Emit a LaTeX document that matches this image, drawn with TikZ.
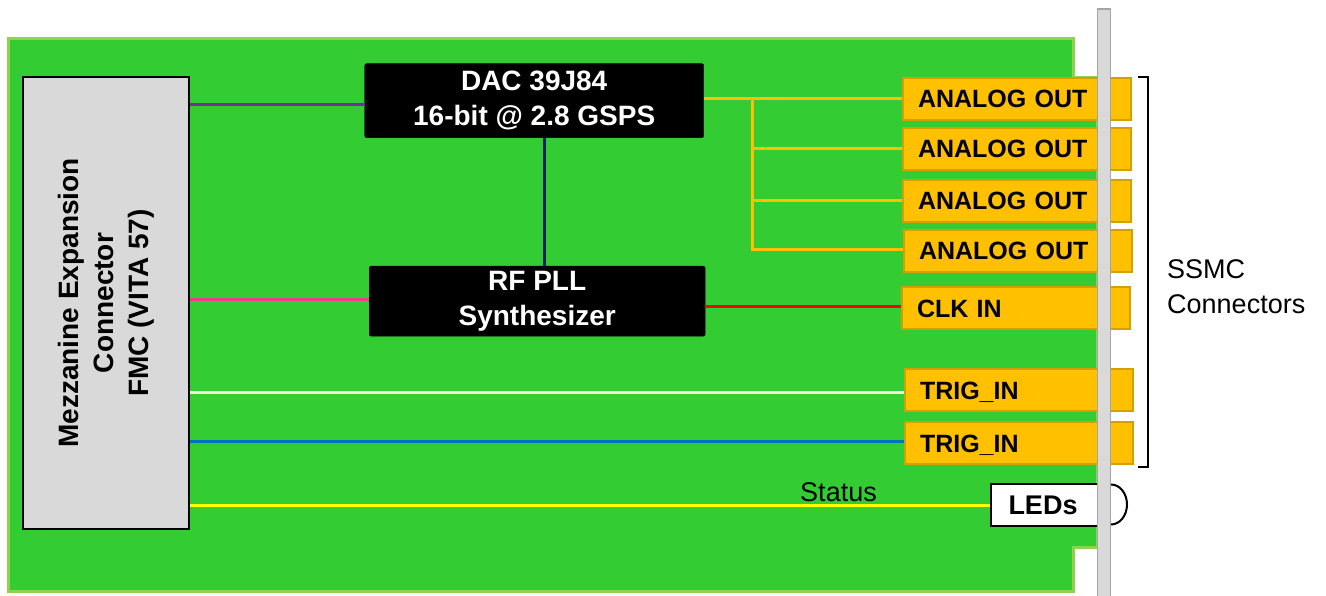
\documentclass[tikz,border=0pt]{standalone}
\usepackage{fontspec}
\setmainfont{Liberation Sans}
\definecolor{boardgreen}{HTML}{33CC33}
\definecolor{boardedge}{HTML}{92D050}
\definecolor{panelgray}{HTML}{D9D9D9}
\definecolor{paneledge}{HTML}{A6A6A6}
\definecolor{connorange}{HTML}{FFC000}
\definecolor{connedge}{HTML}{D4A000}
\definecolor{wpurple}{HTML}{7030A0}
\definecolor{wpink}{HTML}{F0388C}
\definecolor{wnavy}{HTML}{002060}
\definecolor{wred}{HTML}{FF0000}
\definecolor{wwhite}{HTML}{F2F2D0}
\definecolor{wblue}{HTML}{0070C0}
\definecolor{wyellow}{HTML}{FFFF00}
\tikzset{
  chip/.style={fill=black, draw=black, rounded corners=2pt, text=white,
    font=\bfseries\fontsize{28}{35}\selectfont, align=center, inner sep=0pt},
  conn/.style={fill=connorange, draw=connedge, line width=2pt, anchor=north west,
    minimum height=42pt, text width=198pt, inner xsep=15pt, inner ysep=0pt, align=left,
    text height=18pt, text depth=0pt, font=\bfseries\fontsize{25}{30}\selectfont},
  wire/.style={line width=3pt},
}
\begin{document}
\begin{tikzpicture}[x=1pt,y=-1pt]
\useasboundingbox (0,0) rectangle (1326,596);
% board
\draw[fill=boardgreen, draw=boardedge, line width=3pt]
  (8.5,39) -- (1073,39) -- (1073,78) -- (1097,78) -- (1097,547) -- (1073,547) -- (1073,591) -- (8.5,591) -- cycle;
% mezzanine connector
\node (mezz) [fill=panelgray, draw=black, line width=2pt, minimum width=166pt, minimum height=452pt,
  inner sep=0pt, anchor=north west] at (22,76) {};
\node (mezztext) [rotate=90, align=center, font=\bfseries\fontsize{28}{35}\selectfont]
  at (mezz.center) {Mezzanine Expansion\\Connector\\FMC (VITA 57)};
% chips
\node (dac) [chip, minimum width=339pt, minimum height=74pt, anchor=north west] at (364.5,63.5)
  {DAC 39J84\\16-bit @ 2.8 GSPS};
\node (pll) [chip, minimum width=336pt, minimum height=70pt, anchor=north west] at (369,266)
  {RF PLL\\Synthesizer};
% SSMC connectors
\node (ao1) [conn] at (902,77) {ANALOG OUT};
\node (ao2) [conn] at (902,127) {ANALOG OUT};
\node (ao3) [conn] at (902,179) {ANALOG OUT};
\node (ao4) [conn] at (903,229) {ANALOG OUT};
\node (clk) [conn] at (901,286) {CLK IN};
\node (trig1) [conn] at (904,368) {TRIG\_IN};
\node (trig2) [conn] at (904,421) {TRIG\_IN};
% LEDs
\node (leds) [fill=white, draw=black, line width=2pt, anchor=north west, minimum width=112pt,
  minimum height=42pt, inner sep=0pt, font=\bfseries\fontsize{27}{32}\selectfont,
  text height=19pt, text depth=0pt] at (990,483) {\hspace*{-8pt}LEDs};
\node (status) [anchor=base, font=\fontsize{27}{32}\selectfont] at (838.5,501) {Status};
% wires
\draw[wire, wpurple] (mezz.east |- 0,105) -- (dac.west |- 0,105);
\draw[wire, wpink] (mezz.east |- 0,300) -- (pll.west |- 0,300);
\draw[wire, wnavy] (dac.south -| 544,0) -- (pll.north -| 544,0);
\coordinate (br) at (752.5,0);
\draw[wire, connorange] (dac.east |- 0,99) -- (ao1.west |- 0,99);
\draw[wire, connorange] (br |- 0,99) |- (ao4.west |- 0,250);
\draw[wire, connorange] (br |- 0,149) -- (ao2.west |- 0,149);
\draw[wire, connorange] (br |- 0,201) -- (ao3.west |- 0,201);
\draw[wire, wred] (pll.east |- 0,306) -- (clk.west |- 0,306);
\draw[wire, wwhite] (mezz.east |- 0,392) -- (trig1.west |- 0,392);
\draw[wire, wblue] (mezz.east |- 0,441) -- (trig2.west |- 0,441);
\draw[wire, wyellow] (mezz.east |- 0,505.5) -- (leds.west |- 0,505.5);
% front panel
\node (panel) [fill=panelgray, draw=paneledge, line width=1.5pt, anchor=north west,
  minimum width=13pt, minimum height=600pt, inner sep=0pt] at (1096.5,8.5) {};
\draw[line width=2pt] (panel.east |- 0,484.5) arc[start angle=-90, end angle=90, x radius=16, y radius=20];
% bracket
\coordinate (bt) at (1138,77);
\coordinate (bb) at (1138,466.5);
\draw[line width=2pt] (bt) -- ++(9.5,0) |- (bb);
\node (ssmc) [anchor=base west, align=left, inner xsep=0pt, font=\fontsize{27}{35}\selectfont] at (1167,313)
  {SSMC\\Connectors};
\end{tikzpicture}
\end{document}
